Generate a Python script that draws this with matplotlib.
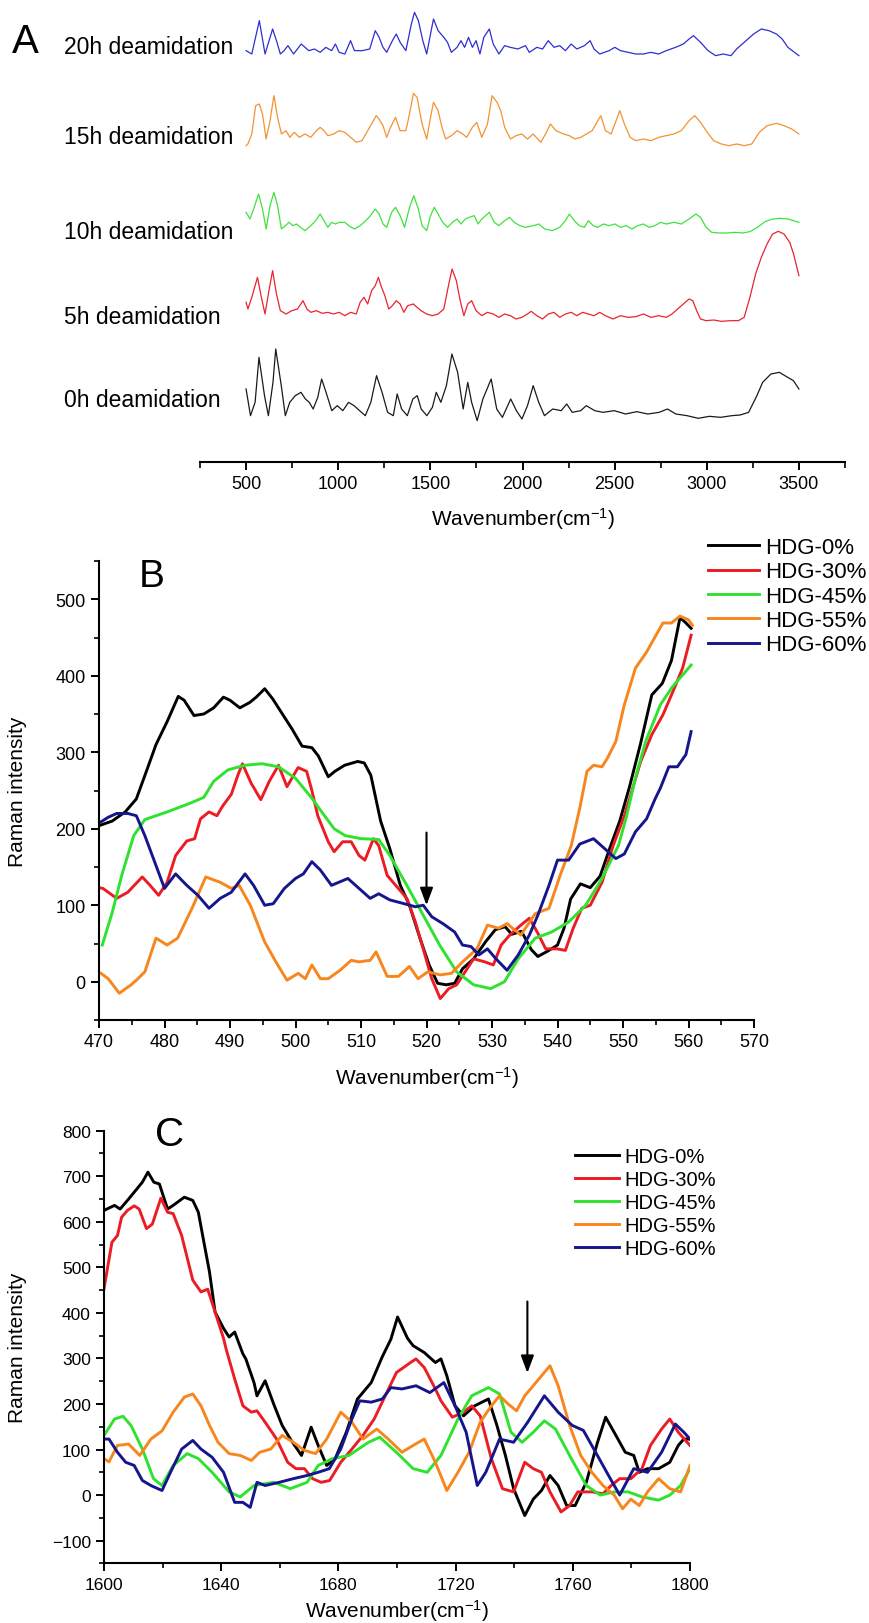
import numpy as np
import matplotlib
matplotlib.use("Agg")
import matplotlib.pyplot as plt
from matplotlib.ticker import MultipleLocator

plt.rcParams['font.family'] = ['Liberation Sans', 'DejaVu Sans']
plt.rcParams['mathtext.fontset'] = 'custom'
plt.rcParams['mathtext.rm'] = 'Liberation Sans'
plt.rcParams['mathtext.it'] = 'Liberation Sans:italic'

# ---------------- panel A : stacked spectra (a.u.) ----------------
a20_x = [500, 531, 572, 603, 644, 665, 686, 706, 727, 758,
         799, 820, 840, 871, 902, 933, 964, 985, 1005, 1036,
         1067, 1088, 1129, 1171, 1201, 1222, 1243, 1263, 1294, 1315,
         1336, 1367, 1397, 1414, 1435, 1459, 1480, 1501, 1517, 1542,
         1573, 1593, 1614, 1645, 1666, 1686, 1707, 1728, 1748, 1769,
         1790, 1820, 1841, 1872, 1903, 1934, 1975, 2016, 2037, 2078,
         2109, 2140, 2171, 2202, 2233, 2264, 2295, 2336, 2367, 2388,
         2419, 2470, 2501, 2532, 2573, 2615, 2656, 2697, 2739, 2780,
         2831, 2873, 2904, 2928, 2966, 3007, 3048, 3089, 3131, 3162,
         3203, 3254, 3296, 3337, 3378, 3409, 3440, 3500]
a20_y = [10, 0, 100, 0, 75, 40, 0, 10, 25, 0,
         30, 20, 10, 15, 5, 20, 10, 30, 5, 0,
         40, 10, 10, 15, 70, 50, 20, 5, 40, 60,
         35, 10, 90, 125, 100, 40, 0, 60, 105, 70,
         50, 35, 5, 20, 40, 20, 50, 20, 40, 0,
         50, 75, 30, 0, 25, 20, 15, 25, 5, 20,
         15, 40, 20, 25, 10, 30, 15, 25, 40, 15,
         0, 10, 20, 10, 5, 0, 0, 5, 0, 10,
         20, 30, 45, 55, 35, 10, -5, 0, -5, 15,
         35, 60, 75, 70, 60, 45, 20, -5]

a15_x = [500, 510, 531, 552, 572, 589, 609, 630, 651, 671,
         692, 717, 737, 762, 789, 820, 851, 882, 902, 923,
         944, 975, 1005, 1036, 1067, 1098, 1129, 1160, 1181, 1206,
         1222, 1243, 1263, 1284, 1311, 1336, 1367, 1387, 1408, 1428,
         1455, 1480, 1501, 1517, 1542, 1563, 1583, 1614, 1645, 1676,
         1697, 1728, 1752, 1779, 1810, 1835, 1862, 1882, 1903, 1934,
         1965, 1996, 2027, 2058, 2099, 2130, 2151, 2182, 2223, 2254,
         2285, 2316, 2347, 2378, 2398, 2425, 2450, 2481, 2501, 2528,
         2553, 2584, 2615, 2656, 2697, 2739, 2780, 2821, 2862, 2904,
         2935, 2966, 2996, 3037, 3079, 3120, 3162, 3203, 3244, 3285,
         3327, 3378, 3419, 3461, 3500]
a15_y = [5, 10, 40, 125, 130, 100, 25, 80, 155, 90,
         40, 50, 30, 45, 30, 40, 30, 50, 60, 50,
         35, 40, 50, 45, 30, 15, 20, 50, 70, 95,
         85, 65, 30, 60, 90, 50, 50, 100, 162, 150,
         70, 25, 90, 135, 110, 60, 25, 35, 50, 40,
         30, 60, 75, 30, 70, 155, 135, 110, 60, 25,
         35, 40, 25, 40, 15, 45, 70, 50, 40, 35,
         25, 30, 40, 50, 70, 95, 50, 40, 70, 110,
         70, 30, 20, 25, 20, 30, 35, 40, 50, 80,
         95, 75, 50, 20, 10, 5, 10, 5, 10, 45,
         65, 72, 65, 55, 40]

a10_x = [500, 521, 541, 568, 589, 609, 630, 651, 671, 692,
         713, 733, 754, 774, 795, 820, 851, 878, 902, 923,
         944, 964, 985, 1005, 1036, 1057, 1088, 1119, 1150, 1175,
         1201, 1222, 1243, 1263, 1290, 1311, 1336, 1360, 1387, 1410,
         1435, 1455, 1480, 1501, 1521, 1542, 1567, 1593, 1620, 1645,
         1666, 1690, 1711, 1738, 1759, 1779, 1800, 1820, 1847, 1872,
         1903, 1930, 1955, 1986, 2016, 2058, 2089, 2120, 2161, 2202,
         2233, 2254, 2281, 2309, 2336, 2357, 2384, 2408, 2439, 2470,
         2501, 2532, 2563, 2594, 2625, 2656, 2687, 2718, 2749, 2780,
         2821, 2862, 2904, 2941, 2966, 2996, 3027, 3069, 3110, 3151,
         3193, 3234, 3275, 3316, 3357, 3399, 3440, 3500]
a10_y = [60, 40, 70, 115, 70, 10, 80, 120, 80, 10,
         20, 30, 20, 25, 15, 5, 20, 35, 55, 35,
         15, 30, 25, 30, 30, 20, 10, 20, 35, 50,
         70, 55, 25, 15, 60, 75, 50, 15, 75, 110,
         70, 20, 5, 50, 75, 55, 30, 15, 30, 40,
         25, 40, 45, 50, 25, 40, 50, 60, 30, 20,
         35, 45, 30, 20, 15, 20, 25, 10, 5, 15,
         35, 55, 35, 20, 15, 35, 20, 15, 25, 20,
         25, 15, 20, 10, 20, 25, 15, 20, 30, 25,
         30, 25, 40, 55, 45, 15, 0, -2, -2, 0,
         -2, 2, 15, 32, 40, 42, 40, 30]

a5_x = [500, 510, 531, 562, 583, 603, 624, 644, 665, 686,
        717, 748, 779, 809, 830, 851, 882, 913, 944, 975,
        1005, 1036, 1067, 1098, 1119, 1140, 1160, 1181, 1201, 1218,
        1232, 1253, 1274, 1294, 1315, 1336, 1356, 1377, 1408, 1428,
        1449, 1480, 1511, 1542, 1573, 1600, 1618, 1641, 1662, 1682,
        1703, 1724, 1748, 1779, 1810, 1841, 1872, 1903, 1934, 1965,
        1996, 2027, 2047, 2078, 2109, 2140, 2171, 2202, 2233, 2264,
        2295, 2326, 2357, 2388, 2419, 2450, 2491, 2532, 2573, 2615,
        2656, 2697, 2739, 2780, 2811, 2842, 2873, 2904, 2924, 2945,
        2966, 2996, 3037, 3079, 3131, 3172, 3203, 3234, 3265, 3296,
        3327, 3357, 3388, 3419, 3450, 3471, 3500]
a5_y = [60, 40, 75, 135, 75, 25, 95, 155, 85, 35,
        25, 35, 40, 65, 40, 30, 35, 27, 30, 25,
        30, 20, 30, 25, 60, 75, 55, 95, 110, 135,
        110, 80, 40, 50, 65, 55, 30, 50, 55, 45,
        35, 25, 20, 25, 40, 115, 160, 125, 65, 20,
        55, 65, 35, 20, 30, 25, 15, 25, 20, 10,
        15, 25, 33, 20, 10, 25, 30, 15, 25, 30,
        20, 30, 25, 20, 30, 20, 10, 20, 15, 17,
        25, 15, 20, 15, 25, 40, 55, 70, 65, 35,
        10, 5, 7, 3, 5, 5, 15, 75, 145, 195,
        235, 265, 273, 265, 240, 205, 140]

a0_x = [500, 524, 549, 570, 600, 621, 646, 661, 691, 713,
        737, 767, 798, 822, 843, 864, 889, 910, 934, 965,
        995, 1025, 1056, 1086, 1116, 1147, 1177, 1208, 1238, 1268,
        1299, 1320, 1344, 1375, 1405, 1429, 1450, 1481, 1511, 1532,
        1557, 1587, 1617, 1648, 1678, 1703, 1724, 1754, 1785, 1830,
        1860, 1891, 1936, 1967, 1997, 2027, 2058, 2088, 2119, 2164,
        2210, 2240, 2270, 2316, 2346, 2392, 2437, 2498, 2559, 2620,
        2680, 2741, 2787, 2832, 2893, 2954, 3014, 3075, 3136, 3181,
        3227, 3272, 3303, 3348, 3394, 3439, 3470, 3500]
a0_y = [80, 0, 40, 175, 60, 0, 100, 200, 90, 0,
        40, 60, 70, 50, 40, 20, 55, 110, 70, 15,
        30, 15, 40, 30, 15, 0, 40, 120, 70, 10,
        0, 65, 20, 0, 50, 60, 20, 0, 25, 70,
        40, 90, 185, 130, 20, 100, 40, -15, 50, 110,
        20, -5, 50, 15, -10, 30, 90, 40, 0, 20,
        15, 35, 10, 15, 30, 15, 10, 15, 5, 12,
        5, 10, 20, 5, 0, -8, -2, -5, 0, 2,
        10, 60, 100, 125, 130, 115, 105, 80]

a_labels = ['20h deamidation', '15h deamidation', '10h deamidation',
            '5h deamidation', '0h deamidation']
a_colors = ['#2e2ed2', '#f39233', '#3fe23f', '#ea2330', '#1a1a1a']
a_offsets = [1224, 944, 689, 419, 139]      # stacking offsets (a.u.)
a_label_y = [47, 137, 233, 318, 401]        # label centres, px from top

# ---------------- panel B : 470-560 cm-1 ----------------
b_series = ['HDG-0%', 'HDG-30%', 'HDG-45%', 'HDG-55%', 'HDG-60%']
b_colors = ['#000000', '#ec1c24', '#2fe22f', '#f7861e', '#16168c']

b0_x = [470, 472, 474, 475.7, 477.4, 478.7, 480.4, 482.1, 483, 484.5,
        486, 487.5, 489, 490, 491.5, 493, 494, 495.3, 496.5, 498,
        499.5, 501, 502.5, 503.5, 505, 506, 507.5, 509.5, 510.5, 511.5,
        513, 514.4, 516, 517.4, 519, 520.4, 521.7, 523, 524.3, 525.5,
        527.2, 529, 530.5, 532, 533, 534.5, 536, 537, 538.5, 540,
        541, 542, 543.5, 545, 546.5, 548, 549.5, 551, 552.7, 554.4,
        556, 557.4, 558.7, 559.5, 560.4]
b0_y = [204, 210, 222, 239, 279, 310, 340, 373, 368, 348,
        350, 358, 372, 368, 358, 365, 372, 383, 370, 350,
        330, 308, 306, 295, 268, 275, 283, 288, 286, 270,
        210, 174, 126, 100, 57, 22, -2, -4, -2, 17,
        30, 52, 68, 72, 62, 66, 42, 33, 40, 48,
        70, 108, 128, 123, 138, 175, 210, 255, 312, 375,
        390, 420, 476, 470, 462]

b30_x = [470, 470.6, 472.7, 474.4, 476.6, 477.8, 479.1, 480.4, 481.7, 483.4,
         484.6, 485.5, 486.8, 488, 488.9, 490.2, 491.2, 491.9, 493.2, 494.7,
         496, 497.4, 498.7, 500.4, 501.7, 502.5, 503.4, 505, 505.9, 507.2,
         508.5, 509.7, 510.6, 511.9, 512.7, 514, 515.3, 517, 518.3, 519.5,
         520.8, 522.1, 523.4, 524.6, 525.9, 527.2, 528.9, 530.2, 531.4, 532.7,
         534.4, 535.7, 536.9, 538.2, 539.9, 541.2, 542.4, 543.7, 545, 546.8,
         548.5, 550.2, 551, 552.7, 554.4, 556.1, 557.8, 559.1, 560.4]
b30_y = [123, 122, 109, 117, 137, 126, 113, 130, 165, 184,
         187, 213, 222, 217, 230, 245, 270, 285, 260, 238,
         262, 283, 255, 280, 275, 250, 217, 183, 170, 183,
         183, 165, 159, 187, 178, 139, 126, 109, 78, 43,
         4, -22, -9, -4, 13, 30, 26, 22, 48, 61,
         74, 83, 65, 43, 43, 41, 70, 96, 100, 130,
         178, 217, 239, 288, 323, 349, 383, 410, 453]

b45_x = [470.5, 472, 473.5, 475.3, 477, 480.4, 483.8, 486, 487.5, 489.7,
         492.3, 494.9, 497.4, 500, 502.5, 504, 505.9, 507.6, 510, 512.7,
         514.4, 517, 519.5, 522, 524.6, 527.2, 529.8, 531.9, 534, 536.6,
         539.1, 541.7, 544.3, 546.8, 549.3, 550.5, 552, 553.5, 555.7, 557.5,
         559, 560.4]
b45_y = [48, 90, 140, 191, 212, 222, 233, 241, 262, 277,
         283, 285, 281, 266, 240, 222, 200, 191, 187, 186,
         165, 126, 87, 48, 13, -4, -9, 0, 30, 57,
         65, 78, 100, 135, 178, 215, 270, 315, 362, 385,
         400, 414]

b55_x = [470.3, 471.4, 473.1, 474.9, 475.7, 477, 478.7, 480.4, 482, 484.2,
         486.3, 488.5, 490.2, 491.4, 493.1, 495.3, 497, 498.7, 500.4, 501.5,
         502.5, 503.8, 505, 506.8, 508.5, 509.7, 511.4, 512.3, 514, 515.7,
         517.4, 518.7, 520.2, 522.1, 523.8, 525.5, 527.7, 529.3, 531, 532.3,
         534.4, 536.6, 538.7, 540.4, 542.1, 543.4, 544.5, 545.5, 546.8, 547.6,
         548.9, 550.2, 551.9, 553.6, 555.3, 556.1, 557.4, 558.7, 560, 560.6]
b55_y = [11, 4, -15, -4, 2, 13, 57, 48, 57, 96,
         137, 130, 122, 126, 100, 52, 26, 2, 11, 4,
         22, 4, 4, 15, 28, 26, 28, 39, 7, 7,
         20, 4, 13, 9, 11, 26, 43, 74, 70, 76,
         61, 89, 96, 139, 178, 227, 275, 283, 281, 292,
         314, 362, 410, 431, 457, 469, 469, 478, 473, 466]

b60_x = [470.3, 471.4, 472.7, 474.4, 475.7, 477, 478.7, 480, 481.7, 483.4,
         485.1, 486.8, 488.5, 490.2, 492.3, 493.6, 495.3, 496.6, 498.3, 500,
         501.2, 502.5, 503.8, 505.5, 508, 509.7, 511.4, 512.7, 514.4, 516.6,
         518.3, 519.5, 520.8, 522.5, 524.3, 525.5, 526.8, 528, 529.3, 530.6,
         532.3, 534, 535.7, 537, 538.7, 540, 541.7, 543.4, 545.5, 547.2,
         548.9, 550.2, 551.9, 553.6, 554.9, 555.7, 557, 558.3, 559.6, 560.4]
b60_y = [209, 215, 220, 220, 217, 191, 152, 122, 141, 126,
         113, 96, 109, 117, 141, 126, 100, 102, 122, 135,
         141, 157, 146, 126, 135, 122, 109, 115, 107, 102,
         98, 100, 85, 76, 65, 48, 46, 35, 43, 30,
         15, 35, 61, 87, 126, 159, 159, 180, 187, 174,
         161, 167, 196, 213, 239, 253, 281, 281, 297, 327]

# ---------------- panel C : 1600-1800 cm-1 ----------------
c0_x = [1600, 1603.6, 1605.5, 1608.4, 1611.2, 1613.1, 1615, 1617, 1618.9, 1621.7,
        1623.6, 1627.4, 1630.3, 1632.2, 1634.1, 1636, 1637.9, 1640.8, 1642.7, 1644.6,
        1647.4, 1648.4, 1651.2, 1652.2, 1655, 1657.9, 1660.8, 1663.6, 1667.4, 1670.7,
        1673.1, 1676, 1678.9, 1682.7, 1686.5, 1691.2, 1695, 1697.9, 1700.2, 1703.6,
        1705.5, 1709.3, 1713.1, 1715, 1717, 1719.8, 1722.7, 1726.5, 1731.2, 1734.1,
        1737, 1739.8, 1743.6, 1746.5, 1749.3, 1752.2, 1755, 1757.9, 1760.8, 1764.6,
        1768.4, 1771.2, 1774.1, 1777.9, 1780.8, 1782.7, 1785.5, 1789.3, 1793.1, 1796,
        1797.9, 1800]
c0_y = [625, 636, 628, 650, 672, 687, 709, 687, 683, 628,
        636, 654, 647, 621, 555, 490, 402, 366, 347, 358,
        310, 299, 247, 218, 251, 200, 153, 123, 87, 149,
        109, 65, 80, 138, 211, 247, 304, 342, 391, 344,
        328, 313, 291, 299, 262, 196, 174, 196, 211, 153,
        87, 14, -45, -9, 10, 43, 21, -23, -23, 28,
        115, 171, 138, 94, 87, 50, 58, 58, 72, 109,
        123, 123]

c30_x = [1600, 1602.7, 1604.6, 1606, 1608, 1610.3, 1612, 1614.5, 1616.5, 1619.4,
         1621.7, 1623.6, 1626.5, 1630.3, 1633.1, 1635.4, 1637.9, 1640.8, 1641.7, 1644.6,
         1647.4, 1650.3, 1652.2, 1655, 1658.9, 1662.7, 1665.5, 1668.4, 1671.2, 1674.1,
         1677, 1680.8, 1684.6, 1688.4, 1692.2, 1696, 1699.8, 1704.6, 1706.5, 1709.3,
         1713.1, 1715, 1718.9, 1722.7, 1725.5, 1728.4, 1732.2, 1736, 1739.8, 1743.6,
         1746.5, 1749.3, 1752.2, 1756, 1758.9, 1761.7, 1766.5, 1770.3, 1773.1, 1776,
         1779.8, 1783.6, 1786.5, 1790.3, 1793.1, 1796, 1800]
c30_y = [453, 555, 570, 610, 625, 635, 628, 585, 595, 652,
         621, 618, 570, 472, 446, 452, 402, 344, 320, 255,
         196, 182, 185, 160, 123, 72, 58, 58, 36, 28,
         32, 72, 101, 131, 167, 218, 269, 291, 299, 280,
         233, 207, 171, 182, 196, 174, 80, 14, 7, 72,
         58, 50, 7, -37, -23, 7, 7, 3, 21, 36,
         36, 58, 109, 145, 167, 138, 109]

c45_x = [1600, 1603.6, 1606.5, 1609.3, 1613.1, 1616.9, 1619.8, 1623.6, 1628.4, 1632.2,
         1636.9, 1642.7, 1646.5, 1651.2, 1657.9, 1663.6, 1669.3, 1673.1, 1677.9, 1683.6,
         1690.3, 1694.1, 1699.8, 1705.5, 1710.3, 1715, 1720.8, 1725.5, 1731.2, 1735,
         1738.9, 1742.7, 1746.5, 1750.3, 1754.1, 1758.9, 1764.6, 1769.4, 1774.1, 1778.9,
         1783.6, 1789.3, 1793.1, 1796.8, 1800]
c45_y = [131, 167, 173, 152, 101, 36, 21, 65, 91, 80,
         50, 7, -4, 21, 28, 14, 28, 65, 80, 87,
         116, 127, 94, 58, 50, 87, 167, 218, 236, 222,
         138, 116, 138, 163, 145, 87, 21, 0, 7, 7,
         -4, -11, 0, 21, 58]

c55_x = [1600, 1601.7, 1604.6, 1608.4, 1612.2, 1616, 1619.8, 1623.6, 1627.4, 1630.3,
         1633.1, 1636, 1638.9, 1642.7, 1646.5, 1650.3, 1653.1, 1656.9, 1660.8, 1664.6,
         1668.4, 1672.2, 1676, 1680.8, 1684.6, 1688.4, 1693.1, 1697, 1701.7, 1705.5,
         1709.3, 1713.1, 1717, 1720.8, 1724.6, 1728.4, 1732.2, 1735, 1737.9, 1740.8,
         1743.6, 1747.4, 1752.2, 1755, 1758.9, 1762.7, 1766.5, 1770.3, 1774.1, 1777,
         1779.8, 1782.7, 1785.5, 1789.3, 1793.1, 1796.8, 1800]
c55_y = [80, 73, 109, 112, 87, 123, 141, 182, 215, 222,
         196, 153, 116, 91, 87, 76, 94, 101, 131, 116,
         98, 91, 123, 182, 160, 123, 145, 123, 94, 109,
         123, 72, 10, 50, 94, 160, 196, 218, 200, 185,
         218, 247, 284, 240, 153, 87, 50, 21, 0, -30,
         -9, -23, 7, 36, 14, 7, 65]

c60_x = [1600, 1601.7, 1604.6, 1607.4, 1610.3, 1613.1, 1616, 1619.8, 1622.7, 1626.5,
         1630.3, 1633.1, 1636.9, 1640.8, 1644.6, 1647.4, 1649.9, 1652.2, 1655, 1659.8,
         1664.6, 1669.3, 1673.1, 1676.9, 1680.8, 1684.6, 1687.3, 1691.2, 1695, 1697.9,
         1701.7, 1706.5, 1711.2, 1716, 1719.8, 1723.6, 1727.4, 1730.3, 1735, 1739.8,
         1744.6, 1750.3, 1755, 1759.8, 1763.6, 1768.4, 1772.2, 1776, 1780.8, 1785.5,
         1790.3, 1795, 1797.9, 1800]
c60_y = [123, 123, 94, 72, 65, 32, 21, 10, 50, 101,
         120, 101, 83, 50, -16, -16, -27, 28, 21, 28,
         36, 43, 50, 58, 101, 167, 207, 204, 211, 236,
         233, 240, 225, 247, 196, 138, 21, 50, 123, 116,
         160, 218, 182, 153, 142, 87, 43, 0, 58, 50,
         94, 156, 138, 123]

W, H = 870, 1624
fig = plt.figure(figsize=(W / 100, H / 100), dpi=100)


def px_axes(left, top, right, bottom):
    # axes rectangle given in pixels from the top-left corner
    return fig.add_axes([left / W, 1 - bottom / H, (right - left) / W, (bottom - top) / H])


def style_axes(ax, size):
    for s in ['top', 'right']:
        ax.spines[s].set_visible(False)
    for s in ['left', 'bottom']:
        ax.spines[s].set_linewidth(1.5)
    ax.tick_params(which='major', direction='out', length=6, width=1.4, labelsize=size)
    ax.tick_params(which='minor', direction='out', length=3.5, width=1.2)


xlabel = 'Wavenumber(cm$^{-1}$)'
arrow = dict(arrowstyle='-|>,head_width=0.28,head_length=0.75', color='black',
             lw=1.5, mutation_scale=14, shrinkA=0, shrinkB=0)

# ---- panel A ----
axA = px_axes(200, 0, 845, 463)
a_x = [a20_x, a15_x, a10_x, a5_x, a0_x]
a_y = [a20_y, a15_y, a10_y, a5_y, a0_y]
for xs, ys, off, col in zip(a_x, a_y, a_offsets, a_colors):
    axA.plot(xs, np.array(ys) + off, color=col, lw=0.9)
axA.set_xlim(250, 3750)
axA.set_ylim(0, 1389)
for s in ['top', 'right', 'left']:
    axA.spines[s].set_visible(False)
axA.spines['bottom'].set_linewidth(1.5)
axA.set_yticks([])
axA.set_xticks(np.arange(250, 3751, 500), minor=True)
axA.set_xticks(np.arange(500, 3501, 500))
axA.tick_params(which='major', direction='out', length=6, width=1.4, labelsize=13)
axA.tick_params(which='minor', direction='out', length=4, width=1.2)
axA.set_xlabel(xlabel, fontsize=15, labelpad=9)
for lab, y in zip(a_labels, a_label_y):
    fig.text(64 / W, 1 - y / H, lab, fontsize=16.5, ha='left', va='center')
fig.text(12 / W, 1 - 42 / H, 'A', fontsize=29, ha='left', va='center')

# ---- panel B ----
axB = px_axes(99, 562, 754, 1021)
b_x = [b0_x, b30_x, b45_x, b55_x, b60_x]
b_y = [b0_y, b30_y, b45_y, b55_y, b60_y]
for xs, ys, col, name in zip(b_x, b_y, b_colors, b_series):
    axB.plot(xs, ys, color=col, lw=2.1, label=name)
axB.set_xlim(470, 570)
axB.set_ylim(-50, 550)
style_axes(axB, 13)
axB.xaxis.set_major_locator(MultipleLocator(10))
axB.xaxis.set_minor_locator(MultipleLocator(5))
axB.yaxis.set_major_locator(MultipleLocator(100))
axB.yaxis.set_minor_locator(MultipleLocator(50))
axB.set_xlabel(xlabel, fontsize=15, labelpad=10)
axB.set_ylabel('Raman intensity', fontsize=15)
axB.yaxis.set_label_coords(-0.11, 0.5)
axB.annotate('', xy=(520, 100), xytext=(520, 195), arrowprops=arrow)
axB.text(478, 531, 'B', fontsize=28, ha='center', va='center', clip_on=False)
axB.legend(loc='upper left', bbox_to_anchor=(0.93, 1.052), frameon=False,
           fontsize=16, handlelength=2.3, handletextpad=0.25, labelspacing=0.15,
           borderpad=0, borderaxespad=0)

# ---- panel C ----
axC = px_axes(104, 1131.7, 690, 1564.4)
c_x = [c0_x, c30_x, c45_x, c55_x, c60_x]
c_y = [c0_y, c30_y, c45_y, c55_y, c60_y]
for xs, ys, col, name in zip(c_x, c_y, b_colors, b_series):
    axC.plot(xs, ys, color=col, lw=2.1, label=name)
axC.set_xlim(1600, 1800)
axC.set_ylim(-150, 800)
style_axes(axC, 12.5)
axC.xaxis.set_major_locator(MultipleLocator(40))
axC.xaxis.set_minor_locator(MultipleLocator(20))
axC.yaxis.set_major_locator(MultipleLocator(100))
axC.yaxis.set_minor_locator(MultipleLocator(50))
axC.set_xlabel(xlabel, fontsize=15, labelpad=4)
axC.set_ylabel('Raman intensity', fontsize=15)
axC.yaxis.set_label_coords(-0.131, 0.5)
axC.annotate('', xy=(1744.5, 268), xytext=(1744.5, 425), arrowprops=arrow)
axC.text(1622.5, 793, 'C', fontsize=29, ha='center', va='center', clip_on=False)
axC.legend(loc='upper left', bbox_to_anchor=(0.804, 0.962), frameon=False,
           fontsize=14.5, handlelength=2.2, handletextpad=0.25, labelspacing=0.2,
           borderpad=0, borderaxespad=0)

fig.savefig('out.png', dpi=100)
